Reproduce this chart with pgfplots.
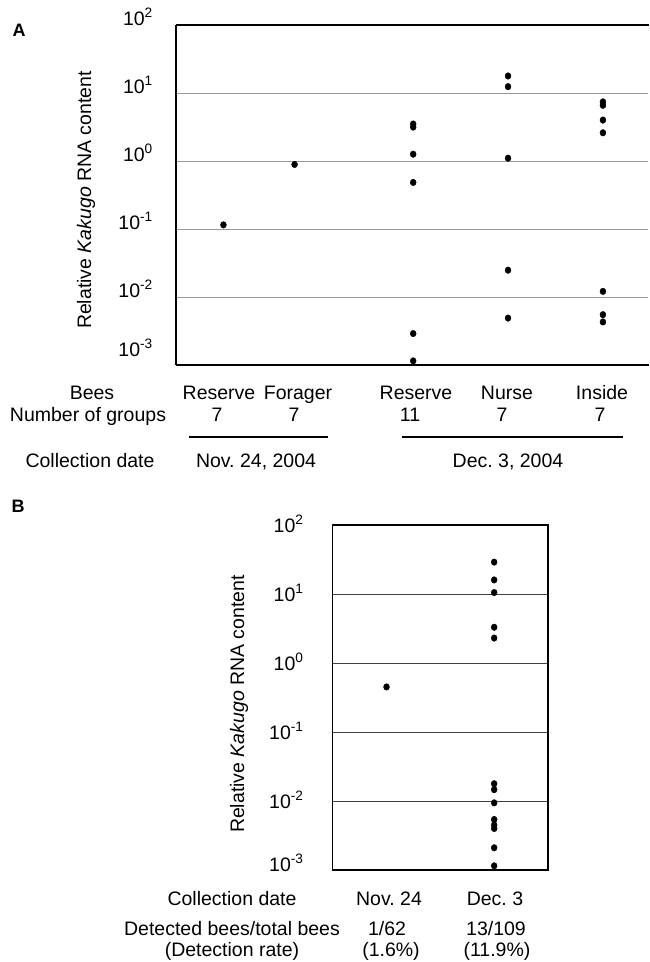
\documentclass[border=0pt]{standalone}
\usepackage{pgfplots}
\pgfplotsset{compat=1.18}
\usepackage{fontspec}
\setmainfont{Liberation Sans}

\tikzset{dots/.style={only marks, mark=*, mark size=3.3pt, black, mark options={xscale=0.9}}}

\begin{document}
\frenchspacing
\fontsize{19.5}{23}\selectfont
\begin{tikzpicture}
\useasboundingbox (0,0) rectangle (649pt,-962pt);

% ---------------- A ----------------
\begin{axis}[
    at={(176pt,-365pt)}, anchor=south west,
    scale only axis,
    width=472pt, height=340pt,
    ymode=log, ymin=1e-3, ymax=1e2,
    xmin=0, xmax=9.95,
    xtick=\empty,
    ytick={1e-3,1e-2,1e-1,1,10,100},
    major tick length=0pt, minor tick length=0pt,
    ymajorgrids,
    axis line style={draw=none},
    clip=false,
    major grid style={black!40, line width=1pt},
    yticklabels={\raisebox{9pt}{10\textsuperscript{-3}},10\textsuperscript{-2},10\textsuperscript{-1},10\textsuperscript{0},10\textsuperscript{1},10\textsuperscript{2}},
    yticklabel style={anchor=base east, inner sep=0pt, xshift=-23pt},
]
% Reserve, Nov. 24
\addplot[dots] coordinates {(1,0.115)};
% Forager
\addplot[dots] coordinates {(2.5,0.89)};
% Reserve, Dec. 3
\addplot[dots] coordinates {(5,3.5) (5,3.15) (5,1.26) (5,0.484) (5,0.0029) (5,0.00115)};
% Nurse
\addplot[dots] coordinates {(7,17.8) (7,12.4) (7,1.1) (7,0.0248) (7,0.0049)};
% Inside
\addplot[dots] coordinates {(9,7.4) (9,6.6) (9,4.0) (9,2.6) (9,0.0121) (9,0.0055) (9,0.0043)};
\end{axis}
\draw[line width=2pt] (176pt,-25pt) -- (649pt,-25pt);
\draw[line width=2pt] (176pt,-365pt) -- (649pt,-365pt);
\draw[line width=1.2pt] (176pt,-25pt) -- (176pt,-365pt);

\node[font=\bfseries\fontsize{18}{20}\selectfont] at (19pt,-30pt) {A};
\node[rotate=90] at (86pt,-200pt) {Relative \textit{Kakugo} RNA content};

\node[anchor=base] at (92pt,-399pt) {Bees};
\node[anchor=base] at (219pt,-399pt) {Reserve};
\node[anchor=base] at (298pt,-399pt) {Forager};
\node[anchor=base] at (416pt,-399pt) {Reserve};
\node[anchor=base] at (507pt,-399pt) {Nurse};
\node[anchor=base] at (602pt,-399pt) {Inside};
\node[anchor=base] at (88pt,-421pt) {Number of groups};
\node[anchor=base] at (217pt,-421pt) {7};
\node[anchor=base] at (294pt,-421pt) {7};
\node[anchor=base] at (410pt,-421pt) {11};
\node[anchor=base] at (502pt,-421pt) {7};
\node[anchor=base] at (600pt,-421pt) {7};
\draw[line width=1.2pt] (189pt,-437pt) -- (328pt,-437pt);
\draw[line width=1.2pt] (402pt,-437pt) -- (623pt,-437pt);
\node[anchor=base] at (90pt,-467pt) {Collection date};
\node[anchor=base] at (256pt,-467pt) {Nov. 24, 2004};
\node[anchor=base] at (508pt,-467pt) {Dec. 3, 2004};

% ---------------- B ----------------
\begin{axis}[
    at={(332.7pt,-870pt)}, anchor=south west,
    scale only axis,
    width=215.3pt, height=345pt,
    ymode=log, ymin=1e-3, ymax=1e2,
    xmin=0, xmax=4,
    xtick=\empty,
    ytick={1e-3,1e-2,1e-1,1,10,100},
    major tick length=0pt, minor tick length=0pt,
    ymajorgrids,
    axis line style={draw=none},
    clip=false,
    major grid style={black!75, line width=0.8pt},
    yticklabels={\raisebox{13pt}{10\textsuperscript{-3}},10\textsuperscript{-2},10\textsuperscript{-1},10\textsuperscript{0},10\textsuperscript{1},10\textsuperscript{2}},
    yticklabel style={anchor=east, inner sep=0pt, xshift=-29pt, yshift=1pt},
]
% Nov. 24
\addplot[dots] coordinates {(1,0.45)};
% Dec. 3
\addplot[dots] coordinates {(3,29) (3,16) (3,10.5) (3,3.3) (3,2.3)
  (3,0.0178) (3,0.0146) (3,0.0094) (3,0.0054) (3,0.0045) (3,0.0040) (3,0.0021) (3,0.00115)};
\end{axis}
\draw[line width=1.3pt] (332.7pt,-525pt) rectangle (548pt,-870pt);
\draw[line width=2pt] (332.7pt,-870pt) -- (548pt,-870pt);

\node[font=\bfseries\fontsize{18}{20}\selectfont] at (18pt,-506pt) {B};
\node[rotate=90] at (239pt,-704pt) {Relative \textit{Kakugo} RNA content};

\node[anchor=base] at (232pt,-905pt) {Collection date};
\node[anchor=base] at (389pt,-905pt) {Nov. 24};
\node[anchor=base] at (495pt,-905pt) {Dec. 3};
\node[anchor=base] at (232pt,-935pt) {Detected bees/total bees};
\node[anchor=base] at (387pt,-935pt) {1/62};
\node[anchor=base] at (496pt,-935pt) {13/109};
\node[anchor=base] at (232pt,-956pt) {(Detection rate)};
\node[anchor=base] at (391pt,-956pt) {(1.6\%)};
\node[anchor=base] at (497pt,-956pt) {(11.9\%)};
\end{tikzpicture}
\end{document}
